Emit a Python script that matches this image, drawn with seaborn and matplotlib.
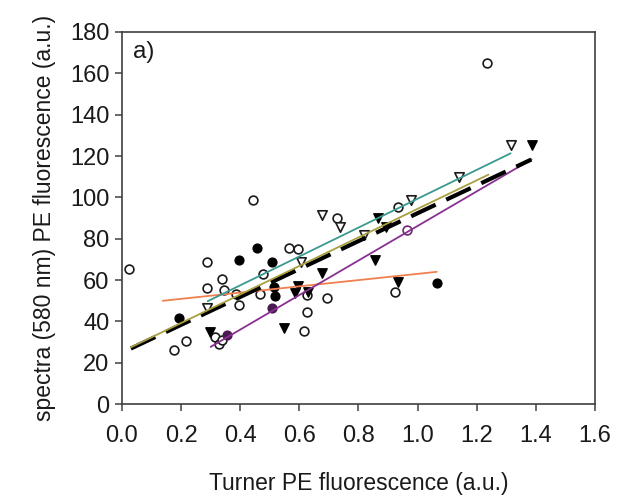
import matplotlib
matplotlib.use("Agg")
import matplotlib.pyplot as plt
import seaborn as sns
import pandas as pd

# ---- data ----
open_circle_x = [0.025, 0.177, 0.217, 0.287, 0.287, 0.337, 0.346, 0.316, 0.327, 0.338,
                 0.386, 0.397, 0.445, 0.478, 0.467, 0.566, 0.596, 0.626, 0.626, 0.617,
                 0.695, 0.726, 0.934, 0.924, 1.234]
open_circle_y = [65.3, 26.1, 30.6, 68.6, 56.3, 60.3, 55.2, 32.6, 28.9, 31.0,
                 53.1, 47.9, 98.7, 62.9, 53.1, 75.6, 74.8, 52.7, 44.4, 35.2,
                 51.4, 89.8, 95.5, 54.3, 165.0]
purple_open_x = [0.966]
purple_open_y = [84.2]

filled_circle_x = [0.194, 0.397, 0.457, 0.506, 0.515, 0.517, 1.065]
filled_circle_y = [41.9, 69.7, 75.6, 68.6, 56.6, 52.4, 58.4]
purple_filled_x = [0.506, 0.357]
purple_filled_y = [46.3, 33.4]

filled_tri_x = [0.299, 0.549, 0.586, 0.597, 0.676, 0.856, 0.868, 0.935, 1.388, 0.628, 0.892]
filled_tri_y = [34.7, 36.6, 53.9, 57.1, 63.2, 69.7, 90.1, 59.2, 125.3, 54.3, 85.8]

open_tri_x = [0.287, 0.605, 0.678, 0.737, 0.818, 0.977, 1.14, 1.315]
open_tri_y = [46.3, 68.6, 91.4, 85.5, 81.8, 98.7, 110.0, 125.3]

# regression lines: (x start, x end), (y start, y end)
line_x = {"all": [0.03, 1.385], "olive": [0.03, 1.24], "teal": [0.29, 1.315],
          "purple": [0.30, 1.386], "orange": [0.138, 1.065]}
line_y = {"all": [26.9, 118.3], "olive": [27.5, 111.0], "teal": [49.8, 121.3],
          "purple": [27.7, 118.4], "orange": [50.0, 64.0]}

x_ticks = [0.0, 0.2, 0.4, 0.6, 0.8, 1.0, 1.2, 1.4, 1.6]
y_ticks = [0, 20, 40, 60, 80, 100, 120, 140, 160, 180]

# ---- styling ----
sns.set_theme(style="ticks")
plt.rcParams["font.family"] = ["Liberation Sans", "DejaVu Sans"]

fig = plt.figure(figsize=(6.19, 4.99), dpi=100)
ax = fig.add_axes([0.197, 0.190, 0.764, 0.746])

ms = 40
edge = "#1a1a1a"

sns.scatterplot(x=open_circle_x, y=open_circle_y, marker="o", s=ms, facecolor="white",
                edgecolor=edge, linewidth=1.2, ax=ax, zorder=3)
sns.scatterplot(x=purple_open_x, y=purple_open_y, marker="o", s=ms, facecolor="white",
                edgecolor="#6a2a70", linewidth=1.2, ax=ax, zorder=3)
sns.scatterplot(x=filled_circle_x, y=filled_circle_y, marker="o", s=ms, color="black",
                edgecolor="black", linewidth=1.0, ax=ax, zorder=3)
sns.scatterplot(x=purple_filled_x, y=purple_filled_y, marker="o", s=ms, color="#4a1a50",
                edgecolor="#4a1a50", linewidth=1.0, ax=ax, zorder=3)
sns.scatterplot(x=filled_tri_x, y=filled_tri_y, marker="v", s=ms + 6, color="black",
                edgecolor="black", linewidth=1.0, ax=ax, zorder=3)
sns.scatterplot(x=open_tri_x, y=open_tri_y, marker="v", s=ms + 6, facecolor="white",
                edgecolor=edge, linewidth=1.2, ax=ax, zorder=3)

colors = {"olive": "#a8a040", "teal": "#3a9a90", "purple": "#8a3090", "orange": "#f08050"}
for name in ["orange", "teal", "purple"]:
    sns.lineplot(x=line_x[name], y=line_y[name], color=colors[name], linewidth=1.3,
                 ax=ax, zorder=4)
sns.lineplot(x=line_x["all"], y=line_y["all"], color="black", linewidth=3.0, ax=ax, zorder=5)
ax.lines[-1].set_dashes([6.5, 2.8])
sns.lineplot(x=line_x["olive"], y=line_y["olive"], color=colors["olive"], linewidth=1.3,
             ax=ax, zorder=6)

ax.set_xlim(0, 1.6)
ax.set_ylim(0, 180)
ax.set_xticks(x_ticks)
ax.set_xticklabels([f"{t:.1f}" for t in x_ticks])
ax.set_yticks(y_ticks)
ax.set_yticklabels([str(t) for t in y_ticks])

for sp in ax.spines.values():
    sp.set_visible(True)
    sp.set_color("#404040")
    sp.set_linewidth(1.2)
ax.tick_params(direction="out", length=5, width=1.1, color="#404040",
               labelsize=17, labelcolor="#1a1a1a")
ax.tick_params(axis="x", pad=10)
ax.tick_params(axis="y", pad=4)

ax.set_xlabel("Turner PE fluorescence (a.u.)", fontsize=16.5, color="#1a1a1a", labelpad=18)
ax.set_ylabel("spectra (580 nm) PE fluorescence (a.u.)", fontsize=16.5, color="#1a1a1a",
              labelpad=10)
ax.text(0.023, 0.975, "a)", transform=ax.transAxes, fontsize=17.5, va="top", ha="left",
        color="#1a1a1a")

fig.savefig("out.png", dpi=100)
